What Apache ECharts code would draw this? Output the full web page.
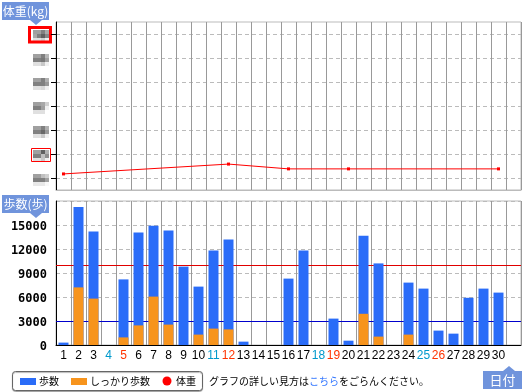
<!DOCTYPE html>
<html>
<head>
<meta charset="utf-8">
<style>html,body{margin:0;padding:0;background:#fff}#chart{width:526px;height:392px}</style>
<script src="https://cdn.jsdelivr.net/npm/echarts@6/dist/echarts.min.js"></script>
</head>
<body>
<div id="chart"></div>
<script>
// 最後の空欄は31日ぶんの余白
var days = ['1','2','3','4','5','6','7','8','9','10','11','12','13','14','15','16','17','18','19','20','21','22','23','24','25','26','27','28','29','30',''];
var saturdays = ['4','11','18','25'];
var sundays = ['5','12','19','26'];
var weight = [60.17,null,null,null,null,null,null,null,null,null,null,60.58,null,null,null,60.38,null,null,null,60.38,null,null,null,null,null,null,null,null,null,60.38,null];
var steps = [300,17250,14200,0,8200,14050,14900,14300,9800,7300,11800,13200,420,0,0,8300,11800,0,3300,540,13650,10200,0,7800,7050,1800,1420,5900,7050,6550,0];
var firmSteps = [0,7200,5800,0,950,2450,6050,2550,0,1300,2050,1950,0,0,0,0,0,0,0,0,3900,1050,0,1300,0,0,0,0,0,0,0];
var weightTicks = [60,61,62,63,64,65,66];
var stepLimit = 10000;
var stepLow = 3000;

var BLUE = '#2a6cf8', ORANGE = '#f7941d', BADGE = '#7094dc';

var chart = echarts.init(document.getElementById('chart'), null, {renderer: 'canvas'});

// 体重の目盛りはモザイクがかかっているので灰色のブロックで描く
var tiles = [
    [[0xa0,0xa0,0x80,0xa8],[0xa8,0x80,0x60,0x88],[0xe0,0xe0,0xd0,0xf0]],
    [[0xa0,0xa0,0x80,0xb8],[0x80,0x80,0x78,0xa0],[0xe0,0xe0,0xc8,0xf0]],
    [[0xa0,0xa0,0x80,0xb0],[0x80,0x80,0x80,0x98],[0xe0,0xe0,0xd8,0xf0]],
    [[0xa0,0xa0,0xa8,0xd0],[0x80,0x80,0xa0,0xf0],[0xe0,0xe0,0xe0,0xff]],
    [[0xa0,0xa0,0x80,0xb0],[0x80,0x80,0x68,0x98],[0xe0,0xe0,0xc8,0xf0]],
    [[0xa0,0xa0,0x60,0xb0],[0x80,0x80,0xc0,0x90],[0xe0,0xe0,0xc8,0xf0]],
    [[0xa0,0xa0,0xc0,0xd0],[0x80,0x80,0x80,0xa0],[0xe8,0xe8,0xe8,0xf8]]
];
function tile(cy, shades) {
    var out = [];
    shades.forEach(function(row, r) {
        row.forEach(function(v, i) {
            out.push({type: 'rect', shape: {x: 33 + i * 4, y: cy - 4 + r * 4, width: 4, height: 4}, style: {fill: 'rgb(' + v + ',' + v + ',' + v + ')'}, silent: true});
        });
    });
    return out;
}
function badge(x, y, w, h, label, arrowX, up, size) {
    var tip = up ? y - 5 : y + h + 5;
    var base = up ? y : y + h;
    return [
        {type: 'rect', shape: {x: x, y: y, width: w, height: h}, style: {fill: BADGE}},
        {type: 'polygon', shape: {points: [[arrowX - 6, base], [arrowX + 6, base], [arrowX, tip]]}, style: {fill: BADGE}},
        {type: 'text', x: x + w / 2, y: y + h / 2, style: {text: label, fill: '#fff', font: size + 'px "Noto Sans CJK JP"', align: 'center', verticalAlign: 'middle'}}
    ];
}

var gfx = [];
[34, 58, 82, 106, 130, 154, 178].forEach(function(cy, i) { gfx = gfx.concat(tile(cy, tiles[i])); });
gfx.push({type: 'rect', shape: {x: 29.5, y: 27.5, width: 21, height: 14.5}, style: {fill: 'none', stroke: '#ff0000', lineWidth: 3}});
gfx.push({type: 'rect', shape: {x: 31.5, y: 148.5, width: 19, height: 13}, style: {fill: 'none', stroke: '#ff0000', lineWidth: 1}});
gfx = gfx.concat(badge(2, 2, 47, 18, '体重(kg)', 36, false, 12));
gfx = gfx.concat(badge(2, 195, 47, 18, '歩数(歩)', 36, false, 12));
gfx = gfx.concat(badge(483, 371, 39, 18, '日付', 509, true, 13));
// 凡例
var legendFont = '10px "Noto Sans CJK JP"';
gfx.push({type: 'rect', shape: {x: 12.5, y: 371.5, width: 190, height: 19, r: 3}, style: {fill: '#fff', stroke: '#666', lineWidth: 1, shadowColor: 'rgba(0,0,0,0.3)', shadowBlur: 1, shadowOffsetY: 1}});
gfx.push({type: 'rect', shape: {x: 20, y: 378, width: 16, height: 7}, style: {fill: BLUE}});
gfx.push({type: 'text', x: 39, y: 381, style: {text: '歩数', fill: '#000', font: legendFont, verticalAlign: 'middle'}});
gfx.push({type: 'rect', shape: {x: 71, y: 378, width: 16, height: 7}, style: {fill: ORANGE}});
gfx.push({type: 'text', x: 90, y: 381, style: {text: 'しっかり歩数', fill: '#000', font: legendFont, verticalAlign: 'middle'}});
gfx.push({type: 'circle', shape: {cx: 167, cy: 381, r: 4.5}, style: {fill: '#ff0000'}});
gfx.push({type: 'text', x: 176, y: 381, style: {text: '体重', fill: '#000', font: legendFont, verticalAlign: 'middle'}});
gfx.push({type: 'text', x: 209, y: 381, style: {
    text: '{a|グラフの詳しい見方は}{b|こちら}{a|をごらんください。}',
    verticalAlign: 'middle',
    rich: {a: {fill: '#000', font: legendFont}, b: {fill: '#3377ff', font: legendFont}}
}});

var option = {
    animation: false,
    backgroundColor: '#fff',
    grid: [
        {left: 56, top: 22, width: 465, height: 168, show: true, borderColor: '#bbb', borderWidth: 1},
        {left: 56, top: 201, width: 465, height: 144, show: true, borderColor: '#bbb', borderWidth: 1}
    ],
    xAxis: [
        {
            gridIndex: 0, type: 'category', data: days,
            axisLine: {lineStyle: {color: '#bbb'}}, axisTick: {show: false}, axisLabel: {show: false},
            splitLine: {show: true, interval: 0, lineStyle: {color: '#999'}}
        },
        {
            gridIndex: 1, type: 'category', data: days,
            axisLine: {lineStyle: {color: '#000', width: 1}}, axisTick: {show: false},
            axisLabel: {
                interval: 0, margin: 5, fontSize: 12, fontFamily: 'Liberation Sans',
                color: function(v) {
                    if (saturdays.indexOf(v) >= 0) return '#0099cc';
                    if (sundays.indexOf(v) >= 0) return '#ff3300';
                    return '#000';
                }
            },
            splitLine: {show: true, interval: 0, lineStyle: {color: '#999'}}
        }
    ],
    yAxis: [
        {
            gridIndex: 0, type: 'value', min: 59.5, max: 66.5,
            axisLine: {show: true, lineStyle: {color: '#000'}},
            axisTick: {show: true, length: 5, customValues: weightTicks, lineStyle: {color: '#000'}},
            axisLabel: {show: false},
            splitLine: {show: true, lineStyle: {color: '#bbb', type: [4, 3]}}
        },
        {
            gridIndex: 1, type: 'value', min: 0, max: 18000, interval: 3000,
            axisLine: {show: true, lineStyle: {color: '#000'}},
            axisTick: {show: false},
            axisLabel: {
                margin: 9, fontFamily: 'DejaVu Sans Mono', fontWeight: 'bold', fontSize: 12, color: '#000',
                verticalAlign: 'top', lineHeight: 4,
                formatter: function(v) { return v === 18000 ? '' : v; }
            },
            splitLine: {show: true, lineStyle: {color: '#bbb', type: [4, 3]}}
        }
    ],
    series: [
        {
            name: '体重', type: 'line', xAxisIndex: 0, yAxisIndex: 0, data: weight, connectNulls: true,
            symbol: 'rect', symbolSize: 3, itemStyle: {color: '#ff0000'}, lineStyle: {color: '#ff0000', width: 1}
        },
        {
            name: '歩数', type: 'bar', xAxisIndex: 1, yAxisIndex: 1, data: steps, barWidth: 10, barGap: '-100%',
            itemStyle: {color: BLUE},
            markLine: {
                silent: true, symbol: 'none', z: 1, label: {show: false},
                data: [
                    {yAxis: stepLimit, lineStyle: {color: '#e00000', type: 'solid', width: 1}},
                    {yAxis: stepLow, lineStyle: {color: '#0000cc', type: 'solid', width: 1}}
                ]
            }
        },
        {
            name: 'しっかり歩数', type: 'bar', xAxisIndex: 1, yAxisIndex: 1, data: firmSteps, barWidth: 10, barGap: '-100%',
            itemStyle: {color: ORANGE}
        }
    ],
    graphic: {elements: gfx}
};
chart.setOption(option);
</script>
</body>
</html>
